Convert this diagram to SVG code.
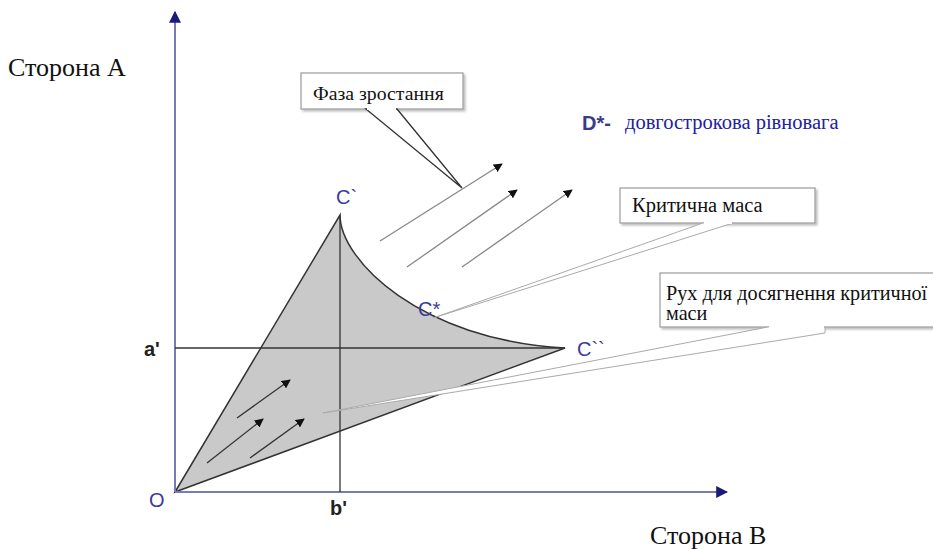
<svg xmlns="http://www.w3.org/2000/svg" width="933" height="549" viewBox="0 0 933 549">
<style>
.serif{font-family:"Liberation Serif","Times New Roman",serif;fill:#111}
.lbl{font-family:"Liberation Sans",Arial,sans-serif;font-size:20px;fill:#3a3a9a}
.blbl{font-family:"Liberation Sans",Arial,sans-serif;font-size:20px;font-weight:bold;fill:#222}
.axis{stroke:#7a7ab5;stroke-width:2;fill:none}
.thin{stroke:#333;stroke-width:1.3;fill:none}
.arr{stroke:#333;stroke-width:1.3;fill:none;marker-end:url(#ah)}
.arrg{stroke:#888;stroke-width:1.3;fill:none;marker-end:url(#ah)}
.box{fill:#fff;stroke:#999;stroke-width:1.2}
.wedge{fill:#fff;stroke:#aaa;stroke-width:1}
</style>
<defs>
<marker id="ah" viewBox="0 0 10 10" refX="9" refY="5" markerWidth="9" markerHeight="9" markerUnits="userSpaceOnUse" orient="auto"><path d="M0,0 L10,5 L0,10 Z" fill="#111"/></marker>
<marker id="axh" viewBox="0 0 10 10" refX="9" refY="5" markerWidth="12" markerHeight="12" markerUnits="userSpaceOnUse" orient="auto"><path d="M0,0 L10,5 L0,10 Z" fill="#1a1a7a"/></marker>
<filter id="sh" x="-10%" y="-10%" width="130%" height="140%"><feDropShadow dx="2" dy="2" stdDeviation="1.2" flood-color="#000" flood-opacity="0.25"/></filter>
</defs>

<g id="region">
<path d="M175,492 L340,215 C340,260 420,340 565,348 Z" fill="#c9c9c9" stroke="#333" stroke-width="1.5"/>
</g>

<g id="axes">
<line class="axis" x1="175" y1="492" x2="175" y2="12" marker-end="url(#axh)"/>
<line class="axis" x1="175" y1="492" x2="727" y2="492" marker-end="url(#axh)"/>
</g>

<g id="guides">
<line class="thin" x1="175" y1="348" x2="565" y2="348"/>
<line class="thin" x1="340" y1="215" x2="340" y2="492"/>
</g>

<g id="connectors">
<line class="arr" x1="237" y1="418" x2="290" y2="380"/>
<line class="arr" x1="207" y1="463" x2="263" y2="419"/>
<line class="arr" x1="250" y1="458" x2="304" y2="419"/>
<line class="arrg" x1="380" y1="241" x2="502" y2="164"/>
<line class="arrg" x1="407" y1="267" x2="517" y2="190"/>
<line class="arrg" x1="462" y1="267" x2="572" y2="190"/>
</g>

<g id="labels">
<text class="lbl" x="149" y="507" font-size="22">O</text>
<text class="blbl" x="144" y="356">a'</text>
<text class="blbl" x="330" y="515">b'</text>
<text class="lbl" x="336" y="204">C`</text>
<text class="lbl" x="418" y="316">C*</text>
<text class="lbl" x="577" y="356">C``</text>
<text class="serif" x="8" y="76" font-size="26">Сторона А</text>
<text class="serif" x="650" y="544" font-size="26">Сторона В</text>
<text x="582" y="130" font-family="Liberation Sans,Arial,sans-serif" font-size="20" font-weight="bold" fill="#3a3a8a">D*-</text>
<text x="625" y="129" font-family="Liberation Serif,Times New Roman,serif" font-size="20.5" fill="#2020a0">довгострокова рівновага</text>
</g>

<g id="callout-faza">
<rect class="box" x="301" y="73" width="162" height="36" filter="url(#sh)"/>
<polygon points="366,109 462,188 397,109" fill="#fff" stroke="#333" stroke-width="1.3"/>
<line x1="367" y1="109" x2="396" y2="109" stroke="#fff" stroke-width="2"/>
<text class="serif" x="313" y="100" font-size="19.8">Фаза зростання</text>
</g>

<g id="callout-krytychna">
<rect class="box" x="620" y="188" width="195" height="35" filter="url(#sh)"/>
<polygon class="wedge" points="703,223 433,318 733,223"/>
<line x1="704" y1="223" x2="732" y2="223" stroke="#fff" stroke-width="2"/>
<text class="serif" x="632" y="212" font-size="20.5">Критична маса</text>
</g>

<g id="callout-rukh">
<rect class="box" x="660" y="273" width="280" height="54" filter="url(#sh)"/>
<polygon class="wedge" points="768,327 323,413 825,333 825,327"/>
<line x1="769" y1="327" x2="824" y2="327" stroke="#fff" stroke-width="2"/>
<text class="serif" x="666" y="300" font-size="20.2">Рух для досягнення критичної</text>
<text class="serif" x="666" y="320" font-size="20.2">маси</text>
</g>
</svg>
